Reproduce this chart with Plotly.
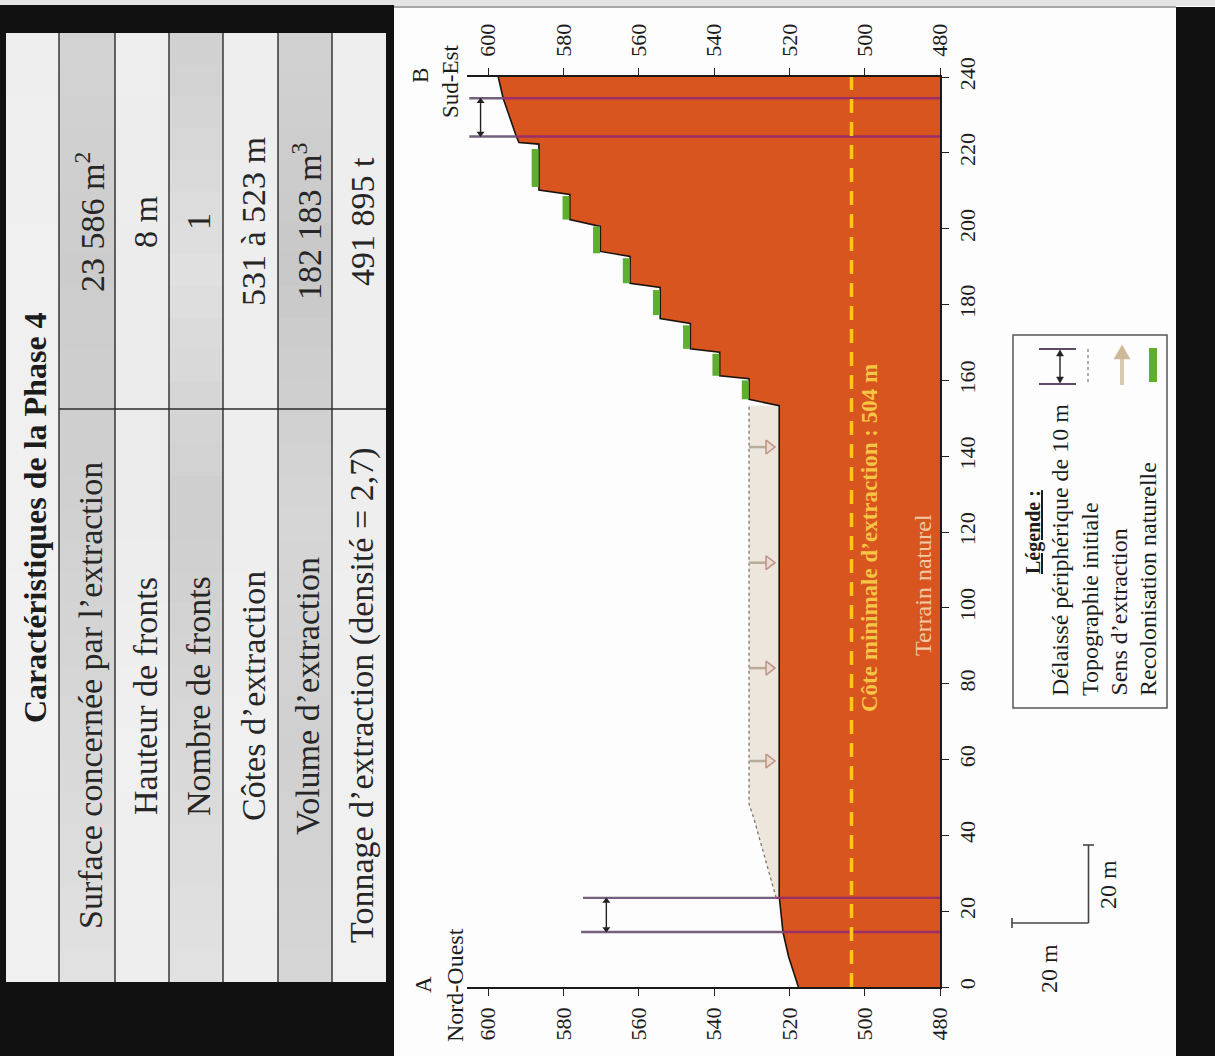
import plotly.graph_objects as go

# ---------- data ----------
surface_dist = [0, 8, 14.5, 23.5, 24, 153.3, 155, 160.4, 161.2, 167.4, 168.3, 175, 176.3, 184.5, 185.6,
                192.7, 194, 200.6, 202.4, 209, 210.2, 222.3, 222.7, 224.3, 229.8, 234.4, 240]
surface_elev = [517.6, 520.2, 521.7, 522.7, 522.7, 522.7, 530.7, 530.7, 538.5, 538.5, 546.3, 546.3, 554.3, 554.3, 562.3,
                562.3, 570.2, 570.2, 578.3, 578.3, 586.5, 586.5, 591.8, 592.5, 594.3, 596, 597.3]
initial_dist = [23.5, 44.7, 48.2, 153.3]
initial_elev = [523.5, 529.5, 530.7, 530.7]
arrow_dist = [59.6, 84.1, 111.9, 142.4]
green_elev = [531.7, 539.5, 547.3, 555.3, 563.3, 571.2, 579.3, 587.5]
green_from = [155, 161.2, 168.3, 177.2, 185.6, 193.5, 202.4, 211]
green_to = [160, 167, 174.5, 183.8, 192.2, 200.6, 208.6, 221]
setback_dist = [14.5, 23.5, 224.3, 234.4]
setback_top = [575.3, 574.8, 605, 605]
setback_surface = [521.7, 523.5, 592.5, 596]
min_extraction = 503.5
elev_ticks = [480, 500, 520, 540, 560, 580, 600]
dist_ticks = list(range(0, 241, 20))
table_title = "Caractéristiques de la Phase 4"
table_labels = ["Surface concernée par l’extraction", "Hauteur de fronts", "Nombre de fronts",
                "Côtes d’extraction", "Volume d’extraction", "Tonnage d’extraction (densité = 2,7)"]
table_values = ["23 586 m<sup>2</sup>", "8 m", "1", "531 à 523 m", "182 183 m<sup>3</sup>", "491 895 t"]
legend_items = ["Délaissé périphérique de 10 m", "Topographie initiale", "Sens d’extraction", "Recolonisation naturelle"]

FONT = "Liberation Serif"
W, H = 1215, 1056
L, R, T, B = 467, 940, 77, 987
def X(p): return (p - L) / (R - L)
def Y(p): return (B - p) / (B - T)

shapes = []
def rect(x0, y0, x1, y1, fill, line=None, w=0):
    shapes.append(dict(type="rect", xref="paper", yref="paper", x0=X(x0), x1=X(x1), y0=Y(y0), y1=Y(y1),
                       fillcolor=fill, line=dict(color=line or fill, width=w), layer="below"))
def seg(x0, y0, x1, y1, color, w=1.2, layer="above", dash="solid"):
    shapes.append(dict(type="line", xref="paper", yref="paper", x0=X(x0), x1=X(x1), y0=Y(y0), y1=Y(y1),
                       line=dict(color=color, width=w, dash=dash), layer=layer))
def tri(pts, fill):
    d = "M " + " L ".join(f"{X(a):.5f},{Y(b):.5f}" for a, b in pts) + " Z"
    shapes.append(dict(type="path", xref="paper", yref="paper", path=d, fillcolor=fill, line=dict(color=fill, width=0.5)))

# ---------- page background ----------
rect(0, 0, W, H, "#fdfdfd")
rect(0, 0, W, 6, "#e4e4e4")
rect(0, 5, 394, H, "#111111")
rect(1176, 7, W, H, "#111111")
seg(394, 7, 1176, 7, "#8a8a8a", 1.5, "below")

# ---------- table ----------
cols = [6, 59, 115, 169, 223, 278, 332, 386]
top, bottom, mid = 33, 982, 409
def lerp(stops, t):
    n = len(stops) - 1
    i = min(int(t * n), n - 1)
    f = t * n - i
    v = stops[i] + (stops[i + 1] - stops[i]) * f
    return f"rgb({v:.0f},{v:.0f},{v:.0f})"
row_stops = [
    [238, 240, 240, 242, 240],
    [212, 204, 208, 216, 226],
    [238, 236, 236, 240, 238],
    [208, 224, 206, 216, 226],
    [238, 238, 238, 240, 238],
    [210, 200, 214, 208, 214],
    [238, 238, 238, 240, 240],
]
STEPS = 30
for c, stops in enumerate(row_stops):
    for s in range(STEPS):
        y0 = round(top + (bottom - top) * s / STEPS)
        y1 = round(top + (bottom - top) * (s + 1) / STEPS)
        rect(cols[c], y0, cols[c + 1], y1 + 1 if s < STEPS - 1 else y1, lerp(stops, (s + 0.5) / STEPS))
for cx in cols[1:-1]:
    seg(cx, top, cx, bottom, "#2c2c2c", 1.4, "below")
seg(cols[1], mid, cols[-1], mid, "#2c2c2c", 1.4, "below")

annots = []
def text(x, y, s, size=15, color="#1c1c1c", anchor="middle", **kw):
    annots.append(dict(xref="paper", yref="paper", x=X(x), y=Y(y), text=s, showarrow=False, textangle=-90,
                       font=dict(family=FONT, size=size, color=color), xanchor="center", yanchor=anchor, **kw))

text(35, 518, f"<b>{table_title}</b>", 32)
centers = [90, 145, 198, 253, 307, 362]
for cx, lab, val in zip(centers, table_labels, table_values):
    text(cx, 696, lab, 34, "#262626")
    text(cx, 222, val, 34, "#262626")

# ---------- chart texts ----------
text(423, 985, "A", 23)
text(455, 985, "Nord-Ouest", 24)
text(420, 76, "B", 23)
text(451, 82, "Sud-Est", 23)
text(869, 538, "<b>Côte minimale d’extraction : 504 m</b>", 23, "#f6c544")
text(923, 585, "Terrain naturel", 24, "#f2c9a2")
text(1049, 969, "20 m", 24)
text(1108, 885, "20 m", 24)

# scale bar
seg(1088.5, 845, 1088.5, 923, "#444444", 1.6)
seg(1012, 923, 1088.5, 923, "#444444", 1.6)
seg(1083, 845, 1094, 845, "#444444", 1.6)
seg(1012, 918, 1012, 928, "#444444", 1.6)

# legend box
rect(1013, 335, 1167, 708, "#fdfdfd", "#555555", 1.5)
text(1033, 532, "<b><u>Légende :</u></b>", 20)
for lx, lab in zip([1060, 1090, 1118, 1148], legend_items):
    text(lx, 698, lab, 24, anchor="bottom")
seg(1039, 349, 1076, 349, "#5e4a6a", 2)
seg(1039, 384, 1076, 384, "#5e4a6a", 2)
seg(1060, 351, 1060, 382, "#222222", 1.4)
tri([(1060, 350), (1056.5, 356), (1063.5, 356)], "#222222")
tri([(1060, 383), (1056.5, 377), (1063.5, 377)], "#222222")
seg(1088, 349, 1088, 384, "#777777", 1.2, dash="dot")
seg(1122, 385, 1122, 358, "#d6c9b0", 4)
tri([(1122, 345), (1114, 359), (1130, 359)], "#cfb898")
seg(1153, 348, 1153, 382, "#5fae30", 8)

# ---------- traces ----------
fig = go.Figure()
# beige extraction area
fig.add_trace(go.Scatter(x=initial_elev + [522.7, 522.7], y=initial_dist + [153.3, 23.5], mode="lines",
                         fill="toself", fillcolor="#ece6dc", line=dict(width=0), hoverinfo="skip"))
# rock
fig.add_trace(go.Scatter(x=[480] + surface_elev + [480], y=[0] + surface_dist + [240], mode="lines",
                         fill="toself", fillcolor="#d8551f", line=dict(width=0), hoverinfo="skip"))
# terrain outline
fig.add_trace(go.Scatter(x=surface_elev, y=surface_dist, mode="lines", line=dict(color="#1a1410", width=1.6), hoverinfo="skip"))
# initial topography
fig.add_trace(go.Scatter(x=initial_elev, y=initial_dist, mode="lines", line=dict(color="#7c766c", width=1.3, dash="dot"), hoverinfo="skip"))
# extraction arrows
sx, sy = [], []
for d in arrow_dist:
    sx += [530.7, 526, None]
    sy += [d, d, None]
fig.add_trace(go.Scatter(x=sx, y=sy, mode="lines", line=dict(color="#b8ab98", width=2.5), hoverinfo="skip"))
fig.add_trace(go.Scatter(x=[525.4] * len(arrow_dist), y=arrow_dist, mode="markers",
                         marker=dict(symbol="triangle-right", size=12, color="#eed9cf", line=dict(color="#bb9485", width=1.5)), hoverinfo="skip"))
# vegetation
gx, gy = [], []
for e, a, b in zip(green_elev, green_from, green_to):
    gx += [e, e, None]
    gy += [a, b, None]
fig.add_trace(go.Scatter(x=gx, y=gy, mode="lines", line=dict(color="#5fae30", width=7), hoverinfo="skip"))
# setback lines
ux, uy, ox, oy = [], [], [], []
for d, t, s in zip(setback_dist, setback_top, setback_surface):
    ux += [t, s, None]; uy += [d, d, None]
    ox += [s, 480, None]; oy += [d, d, None]
fig.add_trace(go.Scatter(x=ux, y=uy, mode="lines", line=dict(color="#75607f", width=2.4), hoverinfo="skip"))
fig.add_trace(go.Scatter(x=ox, y=oy, mode="lines", line=dict(color="#9a2f68", width=2.4), hoverinfo="skip"))
# minimum level, on the top axis so that this axis is drawn
fig.add_trace(go.Scatter(x=[min_extraction, min_extraction], y=[0, 240], xaxis="x2", mode="lines",
                         line=dict(color="#ffc61c", width=3.5, dash="14px,9px"), hoverinfo="skip"))
# setback double arrows
for e, a, b in [(568.6, setback_dist[0], setback_dist[1]), (602, setback_dist[2], setback_dist[3])]:
    fig.add_trace(go.Scatter(x=[e, e], y=[a + 0.8, b - 0.8], mode="lines+markers", line=dict(color="#222222", width=1.4),
                             marker=dict(symbol=["triangle-down", "triangle-up"], size=7, color="#222222"), hoverinfo="skip"))

axis_x = dict(range=[605.6, 480], tickvals=elev_ticks, tickangle=-90, ticks="outside", ticklen=7, tickwidth=1.2,
              tickcolor="#222222", showline=True, linecolor="#1a1a1a", linewidth=1.6, showgrid=False, zeroline=False,
              tickfont=dict(family=FONT, size=22, color="#1c1c1c"))
fig.update_layout(
    width=W, height=H, showlegend=False,
    margin=dict(l=L, r=W - R, t=T, b=H - B, pad=0),
    paper_bgcolor="#fdfdfd", plot_bgcolor="rgba(0,0,0,0)",
    xaxis=dict(side="bottom", ticklabelstandoff=3, **axis_x),
    xaxis2=dict(side="top", overlaying="x", anchor="y", ticklabelstandoff=7, **axis_x),
    yaxis=dict(side="right", range=[0, 240], tickvals=dist_ticks, tickangle=-90, ticks="outside", ticklen=7, tickwidth=1.2,
               tickcolor="#222222", showline=True, linecolor="#1a1a1a", linewidth=1.6, showgrid=False, zeroline=False,
               tickfont=dict(family=FONT, size=22, color="#1c1c1c")),
    shapes=shapes, annotations=annots,
)
fig.write_html("out.html", config=dict(displayModeBar=False),
               post_script="document.body.style.margin='0';document.documentElement.style.overflow='hidden';")
